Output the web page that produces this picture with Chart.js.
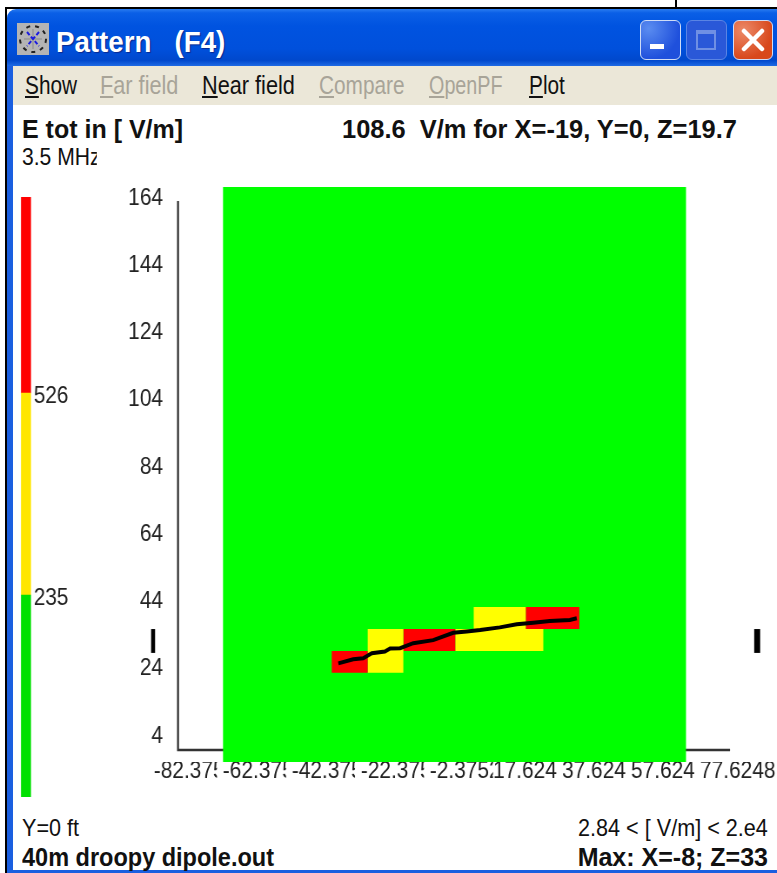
<!DOCTYPE html>
<html>
<head>
<meta charset="utf-8">
<title>Pattern (F4)</title>
<script src="https://cdn.jsdelivr.net/npm/chart.js@4/dist/chart.umd.min.js"></script>
<style>
    html, body { margin: 0; padding: 0; background: #fff; }
    body { position: relative; width: 777px; height: 873px; overflow: hidden; font-family: "Liberation Sans", sans-serif; color: #111; }
    .abs { position: absolute; white-space: pre; line-height: 1; transform-origin: 0 0; }
    #frameTop { left: 5px; top: 7px; width: 772px; height: 2px; background: #000; }
    #frameTick { left: 675px; top: 0; width: 2px; height: 8px; background: #000; }
    #frameLeft { left: 5px; top: 7px; width: 2px; height: 866px; background: #000; }
    #borderLeft { left: 7px; top: 60px; width: 6px; height: 813px; background: #1a5fe0; }
    #borderBottom { left: 7px; top: 870px; width: 770px; height: 3px; background: #1a5fe0; }
    #titlebar { left: 7px; top: 9px; width: 770px; height: 57px; border-top-left-radius: 9px;
        background: linear-gradient(#2a7cf0 0, #0a5fe6 7%, #0053e0 30%, #0050dc 70%, #0048cc 90%, #1e6ae4 100%); }
    #menubar { left: 13px; top: 66px; width: 764px; height: 39px; background: #ebe7d8; }
    #titleText { left: 56px; top: 28px; font-size: 29px; font-weight: bold; color: #fff; text-shadow: 1px 1px 1px #0a2a90; transform: scaleX(.955); }
    .btn { position: absolute; top: 20px; height: 38px; border: 1px solid #cfdcf6; border-radius: 6px; box-sizing: content-box; }
    #btnMin { left: 640px; width: 39px; background: radial-gradient(circle at 20% 20%, #5a8cf0, #1f50dc 70%); }
    #btnMin i { position: absolute; left: 9px; top: 23px; width: 14px; height: 5px; background: #fff; }
    #btnMax { left: 686px; width: 39px; background: #2a58d8; border-color: #5a84e4; }
    #btnMax i { position: absolute; left: 9px; top: 9px; width: 20px; height: 20px; border: 2px solid #6f90e4; border-top-width: 4px; box-sizing: border-box; }
    #btnClose { left: 733px; width: 38px; background: radial-gradient(circle at 25% 25%, #ec8a68, #d8481c 70%); color: #fff; }
    .menu { top: 72px; font-size: 26px; transform: scaleX(.8); }
    .off { color: #a8a498; }
    .bold { font-weight: bold; }
    /* texto fino: o canvas é desenhado mais largo e comprimido na horizontal */
    canvas { position: absolute; left: 0; top: 0; transform-origin: 0 0; transform: scaleX(.87); }
</style>
</head>
<body>
<div class="abs" id="frameTick"></div>
<div class="abs" id="frameTop"></div>
<div class="abs" id="frameLeft"></div>
<div class="abs" id="borderLeft"></div>
<div class="abs" id="borderBottom"></div>
<div class="abs" id="titlebar"></div>
<div class="abs" id="menubar"></div>

<svg class="abs" style="left:17px;top:23px" width="32" height="32" viewBox="0 0 32 32">
    <rect width="32" height="32" fill="#b4b4b4"/>
    <circle cx="16" cy="16" r="13" fill="none" stroke="#222" stroke-width="2" stroke-dasharray="4 5"/>
    <path d="M16 6V26M7 16H25" stroke="#8a8a8a" stroke-width="1"/>
    <path d="M10 9L22 23M22 9L10 23" stroke="#1c1ce0" stroke-width="2" stroke-dasharray="4 2"/>
</svg>
<div class="abs" id="titleText">Pattern   (F4)</div>
<div class="btn" id="btnMin"><i></i></div>
<div class="btn" id="btnMax"><i></i></div>
<div class="btn" id="btnClose">
    <svg width="38" height="38" viewBox="0 0 38 38"><path d="M10 10L28 28M28 10L10 28" stroke="#fff" stroke-width="4.5" stroke-linecap="round"/></svg>
</div>

<div class="abs menu" style="left:25px"><u>S</u>how</div>
<div class="abs menu off" style="left:100px;transform:scaleX(.835)"><u>F</u>ar field</div>
<div class="abs menu" style="left:202px;transform:scaleX(.835)"><u>N</u>ear field</div>
<div class="abs menu off" style="left:319px"><u>C</u>ompare</div>
<div class="abs menu off" style="left:429px;transform:scaleX(.76)"><u>O</u>penPF</div>
<div class="abs menu" style="left:529px"><u>P</u>lot</div>

<div class="abs bold" style="left:22px;top:117px;font-size:25px">E tot in [ V/m]</div>
<div class="abs bold" style="left:342px;top:117px;font-size:25px;transform:scaleX(1.018)">108.6  V/m for X=-19, Y=0, Z=19.7</div>
<div class="abs" style="left:22px;top:145px;font-size:24px;width:85px;overflow:hidden;transform:scaleX(.88)">3.5 MHz</div>
<div class="abs" style="left:22px;top:816px;font-size:24px;transform:scaleX(.9)">Y=0 ft</div>
<div class="abs bold" style="left:22px;top:845px;font-size:25px;transform:scaleX(.94)">40m droopy dipole.out</div>
<div class="abs" style="right:9px;top:816px;font-size:24px;transform-origin:100% 0;transform:scaleX(.9)">2.84 &lt; [ V/m] &lt; 2.e4</div>
<div class="abs bold" style="right:9px;top:845px;font-size:25px">Max: X=-8; Z=33</div>

<canvas id="patternChart" width="894" height="873"></canvas>
<canvas id="legendChart" width="116" height="654" style="top:170px"></canvas>

<script>
// Eixos do gráfico
const xTickValues = [-82.375, -62.375, -42.375, -22.375, -2.375, 17.625, 37.625, 57.625, 77.625];
const xTickLabels = [' -82.375', ' -62.375', ' -42.375', ' -22.375', ' -2.3752', '17.624', '37.624', '57.624', '77.6248'];
const zTickValues = [164, 144, 124, 104, 84, 64, 44, 24, 4];

// Células do campo (verde por último, fica atrás das outras)
const cellLevels = ['red', 'yellow', 'red', 'yellow', 'yellow', 'red', 'green'];
const cellXFrom = [-37.82, -27.39, -17.07, -2.0, 3.34, 18.41, -69.33];
const cellXTo = [-27.39, -17.07, -2.0, 23.51, 18.41, 33.95, 64.87];
const cellZFrom = [23.72, 23.72, 30.17, 30.17, 36.71, 36.71, -2.84];
const cellZTo = [30.17, 36.71, 36.71, 36.71, 43.26, 43.26, 168.16];

// Fio do dipolo
const wireX = [-35.9, -31.6, -28.7, -26.2, -22.4, -20.9, -18.0, -14.2, -8.4, -2.6, 1.3, 5.2, 10.9, 15.8, 20.6, 25.4, 31.2, 33.2];
const wireZ = [26.5, 27.7, 28.0, 29.5, 30.0, 30.9, 31.0, 32.5, 33.4, 35.6, 36.0, 36.4, 37.2, 38.1, 38.6, 39.1, 39.4, 39.9];

// Marcas laterais e linhas dos eixos
const markerX = [-89.6, 85.5];
const markerZFrom = [29.6, 29.6];
const markerZTo = [36.7, 36.7];
const axisX = [-82.375, -82.375, 77.625];
const axisZ = [164, 0.73, 0.73];

// Legenda de cores
const legendLevels = ['green', 'yellow', 'red'];
const legendBands = [1, 1, 0.97];
const legendTickValues = [1, 2];
const legendTickLabels = ['235', '526'];

const levelColors = { red: '#ff0000', yellow: '#ffff00', green: '#00ff00' };
const legendColors = { red: '#ff0000', yellow: '#ffe600', green: '#00e000' };
const tickFont = { family: '"Liberation Sans", sans-serif', size: 24 };
const tickColor = '#222';

function pointsOf(xs, zs) {
    return xs.map((x, i) => ({ x: x, y: zs[i] }));
}

function buildDatasets() {
    const datasets = [];
    datasets.push({
        data: pointsOf(wireX, wireZ),
        showLine: true, borderColor: '#000', borderWidth: 4, pointRadius: 0, clip: false
    });
    markerX.forEach((x, i) => {
        datasets.push({
            data: pointsOf([x, x], [markerZFrom[i], markerZTo[i]]),
            showLine: true, borderColor: '#000', borderWidth: i === 0 ? 4.6 : 6.9, pointRadius: 0, clip: false
        });
    });
    cellLevels.forEach((level, i) => {
        const xs = [cellXFrom[i], cellXTo[i], cellXTo[i], cellXFrom[i], cellXFrom[i]];
        const zs = [cellZFrom[i], cellZFrom[i], cellZTo[i], cellZTo[i], cellZFrom[i]];
        datasets.push({
            data: pointsOf(xs, zs),
            showLine: true, fill: 'shape', backgroundColor: levelColors[level],
            borderWidth: 0, pointRadius: 0, clip: false
        });
    });
    datasets.push({
        data: pointsOf(axisX, axisZ),
        showLine: true, borderColor: '#333', borderWidth: 2.3, pointRadius: 0, clip: false
    });
    return datasets;
}

new Chart(document.getElementById('patternChart'), {
    type: 'scatter',
    data: { datasets: buildDatasets() },
    options: {
        responsive: false,
        animation: false,
        devicePixelRatio: 1,
        layout: { padding: { left: 144.6, right: 54.92, top: 187, bottom: 81 } },
        plugins: { legend: { display: false }, tooltip: { enabled: false }, title: { display: false } },
        scales: {
            x: {
                type: 'linear', min: -82.375, max: 77.625,
                afterFit: scale => { scale.height = 30; scale.paddingLeft = 0; scale.paddingRight = 0; },
                afterBuildTicks: scale => { scale.ticks = xTickValues.map(v => ({ value: v })); },
                grid: { display: false, drawTicks: false },
                border: { display: false },
                ticks: {
                    autoSkip: false, minRotation: 0, maxRotation: 0, align: 'start', labelOffset: -34.5, padding: -5,
                    font: tickFont, color: tickColor,
                    // cada rótulo cobre o fim do anterior, como na janela original
                    showLabelBackdrop: true, backdropColor: '#fff',
                    backdropPadding: ctx => ({ left: ctx.index < 5 ? -6.67 : 0, right: 0, top: 0, bottom: 0 }),
                    callback: (value, index) => xTickLabels[index]
                }
            },
            y: {
                type: 'linear', min: -2.84, max: 168.16,
                afterFit: scale => { scale.width = 60; },
                afterBuildTicks: scale => { scale.ticks = zTickValues.map(v => ({ value: v })); },
                grid: { display: false, drawTicks: false },
                border: { display: false },
                ticks: {
                    autoSkip: false, labelOffset: -3, padding: 17.2,
                    font: tickFont, color: tickColor
                }
            }
        }
    }
});

new Chart(document.getElementById('legendChart'), {
    type: 'bar',
    data: {
        labels: ['E'],
        datasets: legendLevels.map((level, i) => ({
            data: [legendBands[i]], backgroundColor: legendColors[level],
            barPercentage: 1, categoryPercentage: 1
        }))
    },
    options: {
        responsive: false,
        animation: false,
        devicePixelRatio: 1,
        layout: { padding: { left: 24.14, right: 20.37, top: 27, bottom: 27 } },
        plugins: { legend: { display: false }, tooltip: { enabled: false } },
        scales: {
            x: { stacked: true, display: false },
            y: {
                stacked: true, position: 'right', min: 0, max: 2.97,
                afterFit: scale => { scale.width = 60; },
                afterBuildTicks: scale => { scale.ticks = legendTickValues.map(v => ({ value: v })); },
                grid: { display: false, drawTicks: false },
                border: { display: false },
                ticks: {
                    autoSkip: false, labelOffset: 3, padding: 3,
                    font: tickFont, color: tickColor,
                    callback: (value, index) => legendTickLabels[index]
                }
            }
        }
    }
});
</script>
</body>
</html>
